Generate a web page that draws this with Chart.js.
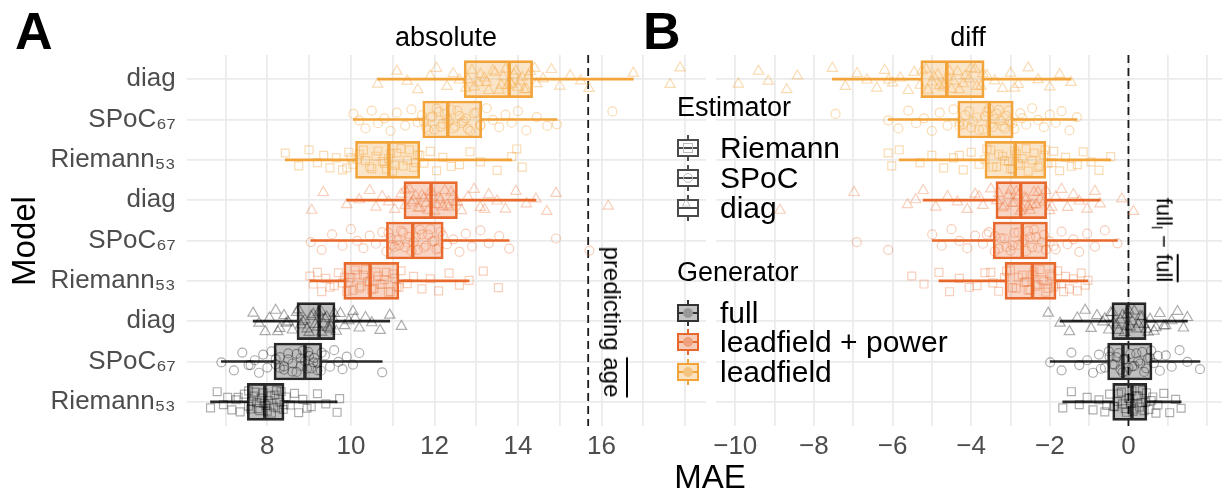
<!DOCTYPE html>
<html>
<head>
<meta charset="utf-8">
<script src="https://cdn.jsdelivr.net/npm/chart.js@4.4.1/dist/chart.umd.min.js"></script>
<style>
  body { margin: 0; background: #fff; font-family: "Liberation Sans", Arial, sans-serif; }
  #wrap { position: relative; width: 1232px; height: 496px; overflow: hidden; }
  #boxA { position: absolute; left: 0; top: 0; width: 706px; height: 496px; }
  #boxB { position: absolute; left: 696px; top: 0; width: 536px; height: 496px; }
  .txt { position: absolute; white-space: nowrap; color: #000; line-height: 1; }
  .tag { font-weight: bold; font-size: 52px; top: 5px; }
  .strip { font-size: 27px; top: 24px; transform: translateX(-50%); }
  .rot { transform: translate(-50%, -50%) rotate(90deg); }
  .lgt { font-size: 27px; left: 677px; }
  .lgl { font-size: 30px; left: 720px; }
  .key { position: absolute; left: 677px; width: 22px; height: 26px; }
  .key .wh { position: absolute; left: 10px; top: 0; width: 2px; height: 26px; background: var(--c); }
  .key .bx { position: absolute; left: 0; top: 4px; width: 22px; height: 18px; box-sizing: border-box;
             border: 2px solid var(--c); background: var(--f); }
  .key .md { position: absolute; left: 0; top: 6px; width: 18px; height: 2px; background: var(--c); }
  .key .sh { position: absolute; left: 4px; top: 2px; width: 10px; height: 10px; box-sizing: border-box; }
</style>
</head>
<body>
<div id="wrap">
  <div id="boxA"><canvas id="chartA"></canvas></div>
  <div id="boxB"><canvas id="chartB"></canvas></div>

  <div class="txt tag" style="left:15px">A</div>
  <div class="txt tag" style="left:643px">B</div>
  <div class="txt strip" style="left:446px">absolute</div>
  <div class="txt strip" style="left:968px">diff</div>
  <div class="txt" style="left:23px;top:241px;font-size:33px;transform:translate(-50%,-50%) rotate(-90deg)">Model</div>
  <div class="txt" style="left:710px;top:476px;font-size:33px;transform:translate(-50%,-50%)">MAE</div>
  <div class="txt rot" style="left:612px;top:322px;font-size:24px">predicting <span style="text-decoration:overline">age</span></div>
  <div class="txt rot" style="left:1162px;top:240px;font-size:22px">full<sub style="font-size:14px">l</sub> &minus; <span style="text-decoration:overline">full</span></div>

  <div class="txt lgt" style="top:94px">Estimator</div>
  <div class="key" style="top:135px;--c:#4a4a4a;--f:#fff"><div class="wh"></div><div class="bx"><div class="md"></div><div class="sh" style="border:1px solid #bbb"></div></div></div>
  <div class="txt lgl" style="top:133px">Riemann</div>
  <div class="key" style="top:165px;--c:#4a4a4a;--f:#fff"><div class="wh"></div><div class="bx"><div class="md"></div><div class="sh" style="border:1px solid #bbb;border-radius:50%"></div></div></div>
  <div class="txt lgl" style="top:163px">SPoC</div>
  <div class="key" style="top:195px;--c:#4a4a4a;--f:#fff"><div class="wh"></div><div class="bx"><div class="md"></div></div></div>
  <div class="txt" style="left:682px;top:196px;font-size:11px;color:#aaa">&#9651;</div>
  <div class="txt lgl" style="top:193px">diag</div>

  <div class="txt lgt" style="top:259px">Generator</div>
  <div class="key" style="top:300px;--c:#333;--f:#c4c4c4"><div class="wh"></div><div class="bx"><div class="md"></div><div class="sh" style="background:#999;border-radius:50%"></div></div></div>
  <div class="txt lgl" style="top:298px">full</div>
  <div class="key" style="top:329px;--c:#E8692D;--f:#F7CDB9"><div class="wh"></div><div class="bx"><div class="md"></div><div class="sh" style="background:#EFA07C;border-radius:50%"></div></div></div>
  <div class="txt lgl" style="top:327px">leadfield + power</div>
  <div class="key" style="top:359px;--c:#F2A33A;--f:#FBE2C1"><div class="wh"></div><div class="bx"><div class="md"></div><div class="sh" style="background:#F5C47F;border-radius:50%"></div></div></div>
  <div class="txt lgl" style="top:357px">leadfield</div>
</div>

<script>
// rows, top to bottom
const MODELS = ['diag', 'SPoC₆₇', 'Riemann₅₃', 'diag', 'SPoC₆₇', 'Riemann₅₃', 'diag', 'SPoC₆₇', 'Riemann₅₃'];
const ESTIMATOR = ['diag', 'SPoC', 'Riemann', 'diag', 'SPoC', 'Riemann', 'diag', 'SPoC', 'Riemann'];
const GENERATOR = ['leadfield', 'leadfield', 'leadfield',
                   'leadfield + power', 'leadfield + power', 'leadfield + power',
                   'full', 'full', 'full'];

// panel A: absolute MAE
const A_LO  = [10.64, 10.06, 8.43, 9.90, 9.04, 9.02, 7.66, 6.90, 6.64];
const A_Q1  = [12.71, 11.72, 10.11, 11.27, 10.85, 9.83, 8.71, 8.16, 7.52];
const A_MED = [13.79, 12.32, 10.91, 11.92, 11.48, 10.46, 9.24, 8.90, 7.94];
const A_Q3  = [14.35, 13.13, 11.65, 12.55, 12.21, 11.15, 9.62, 9.30, 8.40];
const A_HI  = [16.76, 14.93, 13.85, 14.43, 13.79, 12.83, 10.93, 10.75, 9.67];
const A_POINTS = [
  [10.64, 11.1, 11.35, 11.6, 11.9, 12.05, 12.3, 12.45, 12.6, 12.75, 12.9, 13.05, 13.2, 13.3, 13.45, 13.6, 13.7, 13.8, 13.9, 14.0, 14.1, 14.2, 14.3, 14.45, 14.6, 14.8, 15.0, 15.25, 15.5, 15.7, 16.76, 17.64, 17.88,
   12.8, 12.95, 13.1, 13.25, 13.4, 13.55, 13.65, 13.75, 13.85, 13.95, 14.05, 14.15, 14.25, 14.4],
  [10.06, 10.2, 10.35, 10.5, 10.65, 10.8, 10.95, 11.1, 11.3, 11.45, 11.6, 11.7, 11.8, 11.9, 12.0, 12.1, 12.2, 12.3, 12.4, 12.5, 12.6, 12.7, 12.8, 12.95, 13.1, 13.25, 13.4, 13.55, 13.7, 13.85, 14.0, 14.2, 14.45, 14.7, 14.93, 16.26,
   11.75, 11.85, 11.95, 12.05, 12.15, 12.25, 12.35, 12.45, 12.55, 12.65, 12.75, 12.85, 13.0, 13.1],
  [8.43, 8.75, 9.0, 9.2, 9.35, 9.5, 9.65, 9.8, 9.95, 10.05, 10.15, 10.3, 10.45, 10.6, 10.75, 10.85, 10.95, 11.05, 11.2, 11.35, 11.5, 11.6, 11.75, 11.9, 12.05, 12.2, 12.4, 12.6, 12.85, 13.1, 13.5, 13.85, 13.97, 14.1,
   10.2, 10.35, 10.5, 10.65, 10.8, 10.9, 11.0, 11.1, 11.25, 11.4, 11.55, 11.65, 9.9, 10.0],
  [9.06, 9.34, 9.9, 10.2, 10.45, 10.6, 10.75, 10.9, 11.05, 11.2, 11.3, 11.4, 11.5, 11.6, 11.7, 11.8, 11.9, 12.0, 12.1, 12.2, 12.3, 12.4, 12.5, 12.65, 12.8, 12.95, 13.1, 13.3, 13.5, 13.7, 13.95, 14.2, 14.43, 14.69, 14.91, 16.16,
   11.3, 11.45, 11.55, 11.65, 11.75, 11.85, 11.95, 12.05, 12.15, 12.25, 12.35, 12.45, 12.55, 13.2],
  [9.04, 9.3, 9.55, 9.8, 10.0, 10.15, 10.3, 10.45, 10.6, 10.75, 10.85, 10.95, 11.05, 11.15, 11.25, 11.35, 11.45, 11.55, 11.65, 11.75, 11.85, 11.95, 12.05, 12.15, 12.3, 12.45, 12.6, 12.75, 12.9, 13.1, 13.3, 13.55, 13.79, 14.91, 15.71,
   10.9, 11.0, 11.1, 11.2, 11.3, 11.4, 11.5, 11.6, 11.7, 11.8, 11.9, 12.0, 12.1, 12.2],
  [9.02, 9.1, 9.2, 9.3, 9.4, 9.5, 9.6, 9.7, 9.8, 9.9, 10.0, 10.1, 10.2, 10.3, 10.4, 10.5, 10.6, 10.7, 10.8, 10.9, 11.0, 11.1, 11.2, 11.35, 11.5, 11.7, 11.9, 12.1, 12.35, 12.6, 12.83, 13.17, 13.53,
   9.85, 9.95, 10.05, 10.15, 10.25, 10.35, 10.45, 10.55, 10.65, 10.75, 10.85, 10.95, 11.05, 11.15],
  [7.66, 7.8, 7.95, 8.05, 8.2, 8.3, 8.4, 8.5, 8.6, 8.7, 8.8, 8.9, 9.0, 9.1, 9.2, 9.28, 9.35, 9.42, 9.5, 9.58, 9.65, 9.75, 9.85, 9.95, 10.05, 10.2, 10.35, 10.5, 10.7, 10.93, 11.21,
   8.75, 8.85, 8.95, 9.05, 9.15, 9.22, 9.3, 9.38, 9.45, 9.52, 9.6, 8.45, 8.25, 10.1],
  [6.9, 7.2, 7.4, 7.55, 7.7, 7.8, 7.9, 8.0, 8.1, 8.2, 8.3, 8.4, 8.5, 8.6, 8.7, 8.8, 8.9, 8.98, 9.05, 9.12, 9.2, 9.28, 9.38, 9.5, 9.6, 9.7, 9.8, 9.9, 10.05, 10.2, 10.75,
   8.2, 8.3, 8.4, 8.5, 8.6, 8.7, 8.8, 8.85, 8.95, 9.0, 9.1, 9.2, 9.3, 7.6],
  [6.64, 6.8, 6.95, 7.05, 7.15, 7.25, 7.35, 7.45, 7.55, 7.62, 7.7, 7.78, 7.85, 7.92, 8.0, 8.08, 8.15, 8.22, 8.3, 8.38, 8.45, 8.55, 8.65, 8.75, 8.85, 8.95, 9.05, 9.2, 9.4, 9.67, 9.73,
   7.55, 7.6, 7.68, 7.75, 7.82, 7.9, 7.97, 8.03, 8.1, 8.18, 8.25, 8.33, 8.4, 7.3]
];
const A_REF = 15.68;   // predicting mean age
const A_TICKS = [8, 10, 12, 14, 16];
const A_GRID = [7, 8, 9, 10, 11, 12, 13, 14, 15, 16, 17, 18];

// panel B: difference to full
const B_LO  = [-7.53, -6.11, -5.83, -5.22, -4.99, -4.82, -1.74, -1.99, -1.67];
const B_Q1  = [-5.28, -4.34, -3.65, -3.37, -3.44, -3.14, -0.42, -0.53, -0.40];
const B_MED = [-4.62, -3.54, -2.88, -2.74, -2.70, -2.44, -0.03, -0.14, 0.09];
const B_Q3  = [-3.67, -2.93, -2.10, -2.08, -2.06, -1.84, 0.45, 0.60, 0.47];
const B_HI  = [-1.46, -1.31, -0.45, -0.72, -0.28, -1.03, 1.50, 1.82, 1.34];
const B_POINTS = [
  [-9.92, -9.41, -9.16, -8.69, -8.42, -7.53, -7.2, -6.9, -6.65, -6.4, -6.2, -6.0, -5.8, -5.6, -5.45, -5.3, -5.15, -5.0, -4.85, -4.7, -4.6, -4.5, -4.35, -4.2, -4.05, -3.9, -3.75, -3.6, -3.4, -3.2, -3.0, -2.8, -2.55, -2.3, -2.0, -1.75, -1.46,
   -5.25, -5.1, -4.95, -4.8, -4.7, -4.55, -4.45, -4.3, -4.15, -4.0, -3.85, -3.7, -6.1, -2.9],
  [-7.45, -6.11, -5.85, -5.6, -5.4, -5.2, -5.0, -4.8, -4.6, -4.45, -4.3, -4.15, -4.0, -3.85, -3.7, -3.6, -3.5, -3.4, -3.3, -3.2, -3.1, -3.0, -2.9, -2.75, -2.6, -2.45, -2.3, -2.15, -2.0, -1.85, -1.7, -1.5, -1.31,
   -4.3, -4.2, -4.05, -3.95, -3.8, -3.65, -3.55, -3.45, -3.35, -3.25, -3.15, -3.05, -2.95, -2.7],
  [-6.11, -6.02, -5.83, -5.3, -5.0, -4.7, -4.45, -4.2, -4.0, -3.8, -3.65, -3.5, -3.35, -3.2, -3.05, -2.95, -2.85, -2.75, -2.6, -2.45, -2.3, -2.15, -2.05, -1.9, -1.75, -1.6, -1.45, -1.3, -1.15, -0.95, -0.75, -0.45,
   -3.6, -3.45, -3.3, -3.15, -3.0, -2.9, -2.8, -2.7, -2.55, -2.4, -2.25, -2.12, -1.95, -4.3],
  [-8.86, -6.98, -5.62, -5.41, -5.22, -4.9, -4.6, -4.35, -4.1, -3.9, -3.7, -3.5, -3.35, -3.2, -3.05, -2.95, -2.85, -2.75, -2.65, -2.55, -2.45, -2.3, -2.15, -2.0, -1.85, -1.7, -1.55, -1.4, -1.25, -1.05, -0.85, -0.72, -0.17, 0.13,
   -3.3, -3.15, -3.0, -2.9, -2.8, -2.7, -2.6, -2.5, -2.4, -2.35, -2.25, -2.1, -1.95, -3.8],
  [-6.91, -6.11, -4.99, -4.75, -4.5, -4.3, -4.1, -3.9, -3.7, -3.55, -3.4, -3.25, -3.1, -2.95, -2.8, -2.7, -2.6, -2.5, -2.4, -2.3, -2.15, -2.0, -1.85, -1.7, -1.55, -1.4, -1.25, -1.05, -0.85, -0.6, -0.28,
   -3.4, -3.3, -3.15, -3.0, -2.9, -2.8, -2.65, -2.55, -2.45, -2.35, -2.2, -2.1, -3.6, -1.9],
  [-5.51, -5.2, -4.82, -4.55, -4.3, -4.05, -3.85, -3.65, -3.45, -3.3, -3.15, -3.0, -2.85, -2.7, -2.6, -2.5, -2.4, -2.3, -2.2, -2.1, -2.0, -1.9, -1.8, -1.7, -1.6, -1.5, -1.4, -1.3, -1.2, -1.1, -1.03,
   -3.1, -2.95, -2.8, -2.65, -2.55, -2.45, -2.35, -2.25, -2.15, -2.05, -1.95, -1.85, -3.5, -1.65],
  [-2.04, -1.74, -1.5, -1.3, -1.1, -0.95, -0.8, -0.65, -0.5, -0.4, -0.3, -0.2, -0.1, -0.03, 0.05, 0.15, 0.25, 0.35, 0.45, 0.55, 0.65, 0.8, 0.95, 1.1, 1.25, 1.4, 1.5,
   -0.38, -0.25, -0.15, -0.05, 0.0, 0.1, 0.2, 0.3, 0.4, -0.45, 0.5, -0.6, 0.7, 0.9],
  [-1.99, -1.7, -1.45, -1.25, -1.05, -0.9, -0.75, -0.6, -0.5, -0.4, -0.3, -0.2, -0.12, -0.05, 0.05, 0.15, 0.25, 0.35, 0.45, 0.55, 0.65, 0.8, 0.95, 1.1, 1.3, 1.5, 1.82,
   -0.48, -0.35, -0.25, -0.15, -0.08, 0.0, 0.1, 0.2, 0.3, 0.4, 0.5, 0.58, -0.7, 0.75],
  [-1.67, -1.45, -1.25, -1.05, -0.9, -0.75, -0.6, -0.48, -0.38, -0.28, -0.18, -0.08, 0.0, 0.06, 0.12, 0.2, 0.28, 0.36, 0.44, 0.52, 0.62, 0.75, 0.9, 1.05, 1.2, 1.34,
   -0.35, -0.25, -0.15, -0.05, 0.03, 0.09, 0.15, 0.24, 0.32, 0.4, 0.46, -0.55, 0.58, 0.7]
];
const B_REF = 0;
const B_TICKS = [-10, -8, -6, -4, -2, 0];
const B_GRID = [-10, -9, -8, -7, -6, -5, -4, -3, -2, -1, 0, 1, 2];

// styling
const FONT = "'Liberation Sans', Arial, sans-serif";
const LINE = { 'leadfield': '#F2A33A', 'leadfield + power': '#E8692D', 'full': '#2a2a2a' };
const FILL = { 'leadfield': 'rgba(242,163,58,0.28)', 'leadfield + power': 'rgba(232,105,45,0.28)', 'full': 'rgba(0,0,0,0.25)' };
const DOT = { 'leadfield': 'rgba(242,163,58,0.38)', 'leadfield + power': 'rgba(232,105,45,0.32)', 'full': 'rgba(0,0,0,0.32)' };
const SHAPE = { 'diag': 'triangle', 'SPoC': 'circle', 'Riemann': 'rect' };
const SIZE = { 'triangle': 6, 'circle': 4.5, 'rect': 5.6 };
// vertical jitter pattern, in row units
const JITTER = [0.12, -0.2, 0.05, 0.26, -0.08, -0.27, 0.18, -0.14, 0.02, 0.22, -0.22, 0.09, -0.03, 0.28,
                -0.17, 0.15, -0.25, 0.07, -0.11, 0.2, -0.05, 0.25, -0.19, 0.11, -0.01, -0.24, 0.17, -0.09,
                0.04, 0.23, -0.15, 0.13, -0.28, 0.01, 0.19, -0.12, 0.08, -0.21, 0.27, -0.06, 0.16];
const Y_MIN = -0.6, Y_MAX = 8.6;

function fmt(v) {
    return v < 0 ? '\u2212' + Math.abs(v) : String(v);
}

function buildDatasets(lo, q1, med, q3, hi, points, ref) {
    var sets = [];
    var lineCol = GENERATOR.map(g => LINE[g]);

    points.forEach(function (row, i) {
        var shape = SHAPE[ESTIMATOR[i]];
        sets.push({
            type: 'scatter',
            data: row.map((v, j) => ({ x: v, y: i + JITTER[(j + i * 7) % JITTER.length] })),
            pointStyle: shape,
            pointRadius: SIZE[shape],
            pointBorderColor: DOT[GENERATOR[i]],
            pointBackgroundColor: 'rgba(0,0,0,0)',
            pointBorderWidth: 1.2,
            order: 0
        });
    });

    // medians
    sets.push({
        type: 'scatter',
        data: med.map((m, i) => ({ x: m, y: i })),
        pointStyle: 'line',
        pointRotation: 90,
        pointRadius: 18,
        pointBorderWidth: 3.5,
        pointBorderColor: lineCol,
        order: 1
    });

    // boxes
    sets.push({
        type: 'bar',
        indexAxis: 'y',
        grouped: false,
        data: q1.map((a, i) => ({ y: i, x: [a, q3[i]] })),
        backgroundColor: GENERATOR.map(g => FILL[g]),
        borderColor: lineCol,
        borderWidth: 2,
        borderSkipped: false,
        barThickness: 37,
        order: 2
    });

    // whiskers
    var wData = [], wCol = [];
    lo.forEach(function (l, i) {
        wData.push({ y: i, x: [l, q1[i]] }, { y: i, x: [q3[i], hi[i]] });
        wCol.push(lineCol[i], lineCol[i]);
    });
    sets.push({
        type: 'bar',
        indexAxis: 'y',
        grouped: false,
        data: wData,
        backgroundColor: wCol,
        borderWidth: 0,
        barThickness: 2,
        order: 3
    });

    // reference line
    sets.push({
        type: 'scatter',
        showLine: true,
        data: [{ x: ref, y: Y_MIN }, { x: ref, y: Y_MAX }],
        borderColor: '#1a1a1a',
        borderWidth: 1.8,
        borderDash: [8, 5],
        pointRadius: 0,
        order: 4
    });
    return sets;
}

function makeChart(id, datasets, xMin, xMax, grid, ticks, showY, padding) {
    var ctx = document.getElementById(id).getContext('2d');
    return new Chart(ctx, {
        type: 'scatter',
        data: { datasets: datasets },
        options: {
            responsive: true,
            maintainAspectRatio: false,
            animation: false,
            events: [],
            layout: { padding: padding, autoPadding: false },
            plugins: { legend: { display: false }, tooltip: { enabled: false } },
            scales: {
                x: {
                    type: 'linear', min: xMin, max: xMax, beginAtZero: false,
                    border: { display: false },
                    grid: { color: '#ebebeb', lineWidth: 1.8, drawTicks: false },
                    afterBuildTicks: function (s) { s.ticks = grid.map(v => ({ value: v })); },
                    afterFit: function (s) { s.height = 70; },
                    ticks: {
                        autoSkip: false, maxRotation: 0, padding: 5, color: '#4d4d4d',
                        font: { family: FONT, size: 26 },
                        callback: v => ticks.includes(v) ? fmt(v) : ''
                    }
                },
                y: {
                    type: 'linear', min: Y_MIN, max: Y_MAX, reverse: true, offset: false,
                    border: { display: false },
                    grid: { color: '#ebebeb', lineWidth: 1.8, drawTicks: false, offset: false },
                    afterBuildTicks: function (s) { s.ticks = MODELS.map((m, i) => ({ value: i })); },
                    afterFit: function (s) { s.width = showY ? 186.7 : 0; },
                    ticks: {
                        display: showY, padding: 11, color: '#4d4d4d',
                        font: { family: FONT, size: 26 },
                        callback: (v, i) => MODELS[i]
                    }
                }
            }
        }
    });
}

makeChart('chartA', buildDatasets(A_LO, A_Q1, A_MED, A_Q3, A_HI, A_POINTS, A_REF),
          6.07, 18.5, A_GRID, A_TICKS, true, { top: 55, right: 0, left: 0, bottom: 0 });
makeChart('chartB', buildDatasets(B_LO, B_Q1, B_MED, B_Q3, B_HI, B_POINTS, B_REF),
          -10.49, 2.38, B_GRID, B_TICKS, false, { top: 55, right: 10, left: 20, bottom: 0 });
</script>
</body>
</html>
